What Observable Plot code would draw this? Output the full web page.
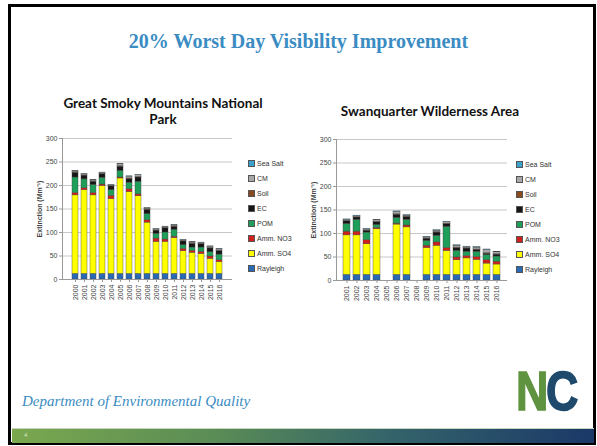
<!DOCTYPE html>
<html>
<head>
<meta charset="utf-8">
<script src="https://cdn.jsdelivr.net/npm/d3@7"></script>
<script src="https://cdn.jsdelivr.net/npm/@observablehq/plot@0.6"></script>
<style>
  html, body { margin: 0; padding: 0; background: #fff; }
  #slide { position: relative; width: 597px; height: 446px; background: #fff; overflow: hidden; }
  #frame { position: absolute; left: 8px; top: 4px; width: 582px; height: 435px; border: 3.5px solid #000; background: #fff; }
  .abs { position: absolute; }
  #title { left: 0; width: 597px; top: 30px; text-align: center; font-family: "Liberation Serif", serif; font-weight: bold; font-size: 20px; color: #3a8cc2; }
  .sub { font-family: Lato, "Liberation Sans", sans-serif; font-weight: bold; font-size: 13.5px; color: #111; text-align: center; line-height: 16px; }
  .chart svg g[aria-label="y-axis label"] text { font-weight: bold; }
  .legend { font-family: "Liberation Sans", sans-serif; font-size: 7px; color: #333; }
  .legend div { position: absolute; white-space: nowrap; height: 8px; line-height: 8px; }
  .legend span.sw { display: inline-block; width: 5px; height: 5px; border: 0.5px solid #555; vertical-align: middle; margin-right: 2px; position: relative; top: -1px; }
  #footer { left: 22px; top: 393px; font-family: "Liberation Serif", serif; font-style: italic; font-size: 15px; color: #3a8cc2; }
  #bar { left: 12px; top: 428px; width: 582px; height: 15px; background: linear-gradient(to right, #7aa84e 0%, #5a8c56 35%, #34646a 65%, #1b3868 100%); border-top: 1px solid #c8d4c0; box-sizing: border-box; }
  #pnum { left: 24px; top: 432px; font-family: "Liberation Sans", sans-serif; font-size: 6px; color: #d8e6c8; }
  #logo { left: 516px; top: 361px; font-family: "Liberation Sans", sans-serif; font-weight: bold; font-size: 56px; line-height: 60px; transform: scaleX(0.8); transform-origin: left top; letter-spacing: -3px; -webkit-text-stroke: 1.5px currentColor; }
</style>
</head>
<body>
<div id="slide">
  <div id="frame"></div>
  <div id="title" class="abs">20% Worst Day Visibility Improvement</div>
  <div class="abs sub" style="left:46px; width:234px; top:95px;">Great Smoky Mountains National<br>Park</div>
  <div class="abs sub" style="left:320px; width:220px; top:103px;">Swanquarter Wilderness Area</div>
  <div id="left" class="abs chart" style="left:30px; top:128px;"></div>
  <div id="right" class="abs chart" style="left:304px; top:129px;"></div>
  <div id="legL" class="abs legend" style="left:248px; top:0px;"></div>
  <div id="legR" class="abs legend" style="left:516px; top:0px;"></div>
  <div id="footer" class="abs">Department of Environmental Quality</div>
  <div id="logo" class="abs"><span style="color:#5f9340">N</span><span style="color:#1f4a6c">C</span></div>
  <div id="bar" class="abs"></div>
  <div id="pnum" class="abs">4</div>
</div>
<script>
// ---- Data ----
const seriesNames = ["Rayleigh", "Amm. SO4", "Amm. NO3", "POM", "EC", "Soil", "CM", "Sea Salt"];
const seriesColors = ["#2a6ab4", "#ffff00", "#d0201c", "#1e9e58", "#161616", "#8a4a1e", "#a8a8a8", "#3aa2cc"];

// Great Smoky Mountains National Park
const gsmYears = ["2000","2001","2002","2003","2004","2005","2006","2007","2008","2009","2010","2011","2012","2013","2014","2015","2016"];
const gsmRayleigh = [12,12,12,12,12,12,12,12,12,12,12,12,12,12,12,12,12];
const gsmSO4      = [167,178,167,187,159,203,174,165,109,68,68,76,48,45,42,32,25];
const gsmNO3      = [5,4,5,3,7,2,6,4,5,7,5,3,5,4,5,5,4];
const gsmPOM      = [33,19,17,14,12,14,14,27,13,10,15,15,8,7,9,9,12];
const gsmEC       = [10,8,7,8,8,9,8,9,9,7,9,6,8,8,7,8,7];
const gsmSoil     = [1,1,1,1,1,1,1,1,1,1,1,1,1,1,1,1,1];
const gsmCM       = [2,2,2,2,1,4,4,4,2,2,2,2,2,2,2,3,3];
const gsmSeaSalt  = [0.5,0.5,0.5,0.5,0.5,0.5,0.5,0.5,0.5,0.5,0.5,0.5,0.5,0.5,0.5,0.5,0.5];

// Swanquarter Wilderness Area (no data 2005, 2008)
const swaYears = ["2001","2002","2003","2004","2005","2006","2007","2008","2009","2010","2011","2012","2013","2014","2015","2016"];
const swaRayleigh = [12,12,12,12,null,12,12,null,12,12,12,12,12,12,12,12];
const swaSO4      = [84,84,65,97,null,107,101,null,57,62,51,31,35,32,24,22];
const swaNO3      = [8,8,9,3,null,2,4,null,5,7,6,6,5,6,7,6];
const swaPOM      = [16,25,16,6,null,12,12,null,10,14,45,14,9,11,11,11];
const swaEC       = [6,5,4,6,null,7,6,null,5,7,6,6,7,4,3,4];
const swaSoil     = [1,1,1,1,null,1,1,null,1,1,1,1,1,1,1,1];
const swaCM       = [2,2,2,3,null,5,2,null,2,3,3,4,2,4,7,4];
const swaSeaSalt  = [1,1,1,1,null,1,1,null,1,1,1,1,1,1,1,1];

const yTicks = [0, 50, 100, 150, 200, 250, 300];

function toRows(years, cols) {
  const rows = [];
  years.forEach((yr, i) => {
    cols.forEach((arr, k) => {
      if (arr[i] != null) rows.push({year: yr, series: seriesNames[k], value: arr[i]});
    });
  });
  return rows;
}

function makeChart(years, rows, width, padding) {
  return Plot.plot({
    width: width,
    height: 179,
    marginLeft: 32,
    marginRight: 2,
    marginTop: 10,
    marginBottom: 28,
    style: {fontSize: "7px", fontFamily: "Liberation Sans, sans-serif", color: "#444", background: "transparent"},
    x: {type: "band", domain: years, padding: padding, label: null},
    y: {domain: [0, 300], ticks: yTicks, label: "Extinction (Mm⁻¹)"},
    color: {domain: seriesNames, range: seriesColors},
    marks: [
      Plot.gridY(yTicks, {stroke: "#c8c8c8", strokeOpacity: 1}),
      Plot.axisY(yTicks, {tickSize: 3, tickPadding: 2, label: "Extinction (Mm⁻¹)", labelAnchor: "center", labelArrow: "none", labelOffset: 25, stroke: "#999"}),
      Plot.axisX({tickRotate: -90, tickSize: 3, tickPadding: 2, stroke: "#999"}),
      Plot.barY(rows, {x: "year", y: "value", fill: "series", z: "series", order: seriesNames, stroke: "#444", strokeWidth: 0.4}),
      Plot.ruleY([0], {stroke: "#999"}),
      Plot.frame({anchor: "left", stroke: "#999"})
    ]
  });
}

const gsmRows = toRows(gsmYears, [gsmRayleigh, gsmSO4, gsmNO3, gsmPOM, gsmEC, gsmSoil, gsmCM, gsmSeaSalt]);
const swaRows = toRows(swaYears, [swaRayleigh, swaSO4, swaNO3, swaPOM, swaEC, swaSoil, swaCM, swaSeaSalt]);

document.getElementById("left").appendChild(makeChart(gsmYears, gsmRows, 204, 0.28));
document.getElementById("right").appendChild(makeChart(swaYears, swaRows, 205, 0.32));

function makeLegend(id, top0) {
  const el = document.getElementById(id);
  const order = seriesNames.slice().reverse();
  order.forEach((name, i) => {
    const d = document.createElement("div");
    d.style.top = (top0 + i * 15) + "px";
    const sw = document.createElement("span");
    sw.className = "sw";
    sw.style.background = seriesColors[seriesNames.indexOf(name)];
    d.appendChild(sw);
    d.appendChild(document.createTextNode(name));
    el.appendChild(d);
  });
}
makeLegend("legL", 160);
makeLegend("legR", 161);
</script>
</body>
</html>
